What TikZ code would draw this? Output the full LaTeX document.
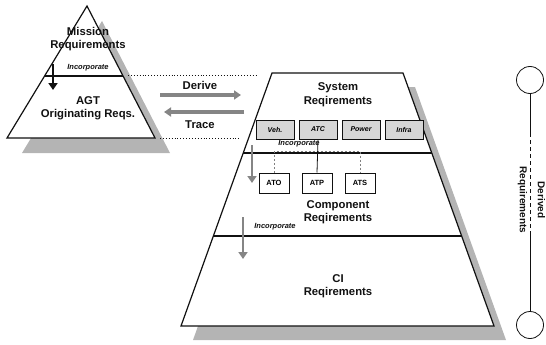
\documentclass[tikz,border=0pt]{standalone}
\usepackage{fontspec}
\setmainfont{Liberation Sans}
\usetikzlibrary{arrows.meta,positioning,calc}
\definecolor{Shade}{HTML}{B4B4B4}
\definecolor{BoxFill}{HTML}{D6D6D6}
\definecolor{Hatch}{HTML}{858585}
\definecolor{Ink}{HTML}{111111}
\tikzset{
  lbl/.style={font=\fontsize{11.3}{13.5}\selectfont\bfseries,align=center,Ink},
  inc/.style={font=\fontsize{7.5}{8}\selectfont\bfseries\itshape,Ink},
  sysbox/.style={draw=Ink,line width=1pt,fill=BoxFill,minimum width=38pt,minimum height=19pt,inner sep=0pt,
    font=\fontsize{7}{8}\selectfont\bfseries\itshape},
  compbox/.style={draw=Ink,line width=1pt,fill=white,minimum width=30pt,minimum height=20pt,inner sep=0pt,
    font=\fontsize{7.5}{8}\selectfont\bfseries},
  flow/.style={line width=3.2pt,draw=Hatch,-{Triangle[length=7pt,width=9pt]}},
  link/.style={dotted,line width=0.9pt,Ink},
  outline/.style={draw=Ink,line width=1.2pt,fill=white},
  tick/.style={gray,line width=0.6pt,dash pattern=on 2pt off 2pt},
}

\begin{document}
\begin{tikzpicture}[x=1pt,y=-1pt]
  \useasboundingbox (0,0) rectangle (546,345);

  % originating pyramid
  \coordinate (apex) at (87,6);
  \coordinate (pbl) at (7,138);
  \coordinate (pbr) at (155,138);
  \fill[Shade] ([shift={(15,15)}]apex) -- ([shift={(15,15)}]pbl) -- ([shift={(15,15)}]pbr) -- cycle;
  \path[outline] (apex) -- (pbl) -- (pbr) -- cycle;
  \draw[Ink,line width=1.6pt] ($(apex)!0.53!(pbl)$) -- ($(apex)!0.53!(pbr)$);
  \node[lbl] (mission) at (88,39) {Mission\\Requirements};
  \node[inc] (pinc) at (88,68) {Incorporate};
  \node[lbl] (agt) at (88,108.5) {AGT\\Originating Reqs.};
  \coordinate (pa1) at (53,64);
  \coordinate (pa2) at (53,90);
  \draw[Ink,line width=2.6pt,-{Triangle[length=7pt,width=9pt]}] (pa1) -- (pa2);

  % derive / trace
  \coordinate (l1a) at (128,75);
  \coordinate (l1b) at (258,75);
  \coordinate (l2a) at (160,138);
  \coordinate (l2b) at (240,138);
  \draw[link] (l1a) -- (l1b);
  \draw[link] (l2a) -- (l2b);
  \node[lbl] (derive) at (200,85) {Derive};
  \node[lbl] (trace) at (200,125) {Trace};
  \coordinate (d1) at (160,95);
  \coordinate (d2) at (241,95);
  \coordinate (t1) at (244,112);
  \coordinate (t2) at (164,112);
  \draw[flow] (d1) -- (d2);
  \draw[flow] (t1) -- (t2);

  % derived pyramid
  \coordinate (tl) at (272,73);
  \coordinate (tr) at (403,73);
  \coordinate (bl) at (181,326);
  \coordinate (br) at (494,326);
  \fill[Shade] ([shift={(12,14)}]tl) -- ([shift={(12,14)}]tr) -- ([shift={(12,14)}]br) -- ([shift={(12,14)}]bl) -- cycle;
  \path[outline] (tl) -- (tr) -- (br) -- (bl) -- cycle;
  \draw[Ink,line width=1.4pt] ($(tl)!0.316!(bl)$) -- ($(tr)!0.316!(br)$);
  \draw[Ink,line width=1.4pt] ($(tl)!0.644!(bl)$) -- ($(tr)!0.644!(br)$);

  \node[lbl] (sys) at (338,94.5) {System\\Reqirements};
  \node[sysbox] (veh) at (275,129.5) {Veh.};
  \node[sysbox,right=4pt of veh] (atc) {ATC};
  \node[sysbox,right=4pt of atc] (power) {Power};
  \node[sysbox,right=4pt of power] (infra) {Infra};

  \node[inc] (inc1) at (299,144) {Incorporate};
  \coordinate (brk) at (0,151);
  \node[compbox] (ato) at (274,183) {ATO};
  \node[compbox,right=12pt of ato] (atp) {ATP};
  \node[compbox,right=12pt of atp] (ats) {ATS};
  \draw[tick] (ato.north) -- (ato.north |- brk) -- (ats.north |- brk) -- (ats.north);
  \draw[Ink,line width=0.8pt] (atc.south) -- (atp.north);
  \coordinate (i1a) at (252,145);
  \coordinate (i1b) at (252,183);
  \draw[flow,line width=2.6pt] (i1a) -- (i1b);

  \node[lbl] (comp) at (338,212) {Component\\Reqirements};
  \node[inc] (inc2) at (275,227) {Incorporate};
  \coordinate (i2a) at (243,217);
  \coordinate (i2b) at (243,259);
  \draw[flow,line width=2.6pt] (i2a) -- (i2b);

  \node[lbl] (ci) at (338,286) {CI\\Reqirements};

  % derived requirements scale
  \node[circle,draw=Ink,line width=0.8pt,minimum size=27pt,inner sep=0pt] (top) at (530,80) {};
  \node[circle,draw=Ink,line width=0.8pt,minimum size=27pt,inner sep=0pt] (bot) at (530,325) {};
  \coordinate (s1) at (530,133);
  \coordinate (s2) at (530,235);
  \draw[Ink,line width=0.8pt] (top.south) -- (s1);
  \draw[Ink,line width=0.8pt,dash pattern=on 4pt off 3pt] (s1) -- (s2);
  \draw[Ink,line width=0.8pt] (s2) -- (bot.north);
  \node[rotate=-90,align=center,font=\fontsize{10}{18}\selectfont\bfseries,Ink] (derived) at (531.5,200) {Derived\\Requirements};
\end{tikzpicture}
\end{document}
